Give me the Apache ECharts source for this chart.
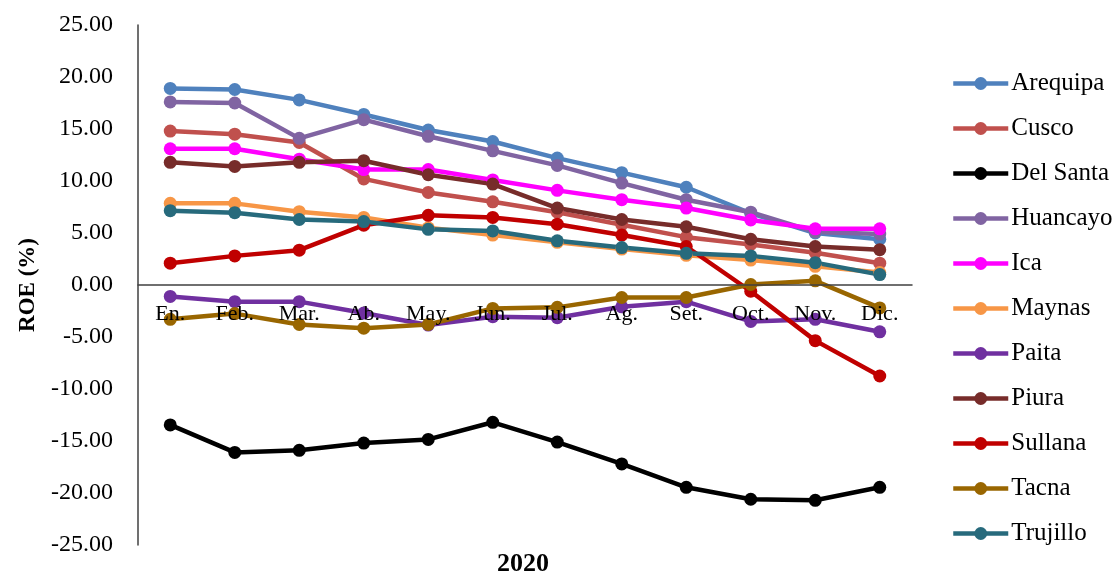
<!DOCTYPE html>
<html>
<head>
<meta charset="utf-8">
<script src="https://cdn.jsdelivr.net/npm/echarts@6/dist/echarts.min.js"></script>
<style>
  html, body { margin: 0; padding: 0; background: #fff; }
  #chart { width: 1118px; height: 575px; }
</style>
</head>
<body>
<div id="chart"></div>
<script>
// Monthly ROE (%) by municipal savings bank, 2020
const months = ['En.', 'Feb.', 'Mar.', 'Ab.', 'May.', 'Jun.', 'Jul.', 'Ag.', 'Set.', 'Oct.', 'Nov.', 'Dic.'];

const arequipa  = [18.9, 18.8, 17.8, 16.4, 14.9, 13.8, 12.2, 10.8, 9.4, 6.9, 5.0, 4.4];
const cusco     = [14.8, 14.5, 13.7, 10.2, 8.9, 8.0, 7.0, 5.8, 4.6, 3.9, 3.1, 2.1];
const delSanta  = [-13.45, -16.1, -15.9, -15.2, -14.85, -13.2, -15.1, -17.2, -19.45, -20.6, -20.7, -19.45];
const huancayo  = [17.6, 17.5, 14.1, 15.9, 14.3, 12.9, 11.5, 9.8, 8.2, 7.0, 5.1, 4.9];
const ica       = [13.1, 13.1, 12.1, 11.1, 11.1, 10.1, 9.1, 8.2, 7.4, 6.25, 5.4, 5.4];
const maynas    = [7.85, 7.85, 7.05, 6.5, 5.5, 4.8, 4.1, 3.45, 2.85, 2.4, 1.8, 1.2];
const paita     = [-1.1, -1.6, -1.6, -2.7, -3.85, -3.05, -3.15, -2.1, -1.6, -3.5, -3.3, -4.5];
const piura     = [11.8, 11.4, 11.8, 11.95, 10.6, 9.7, 7.4, 6.3, 5.6, 4.4, 3.7, 3.4];
const sullana   = [2.1, 2.8, 3.35, 5.75, 6.7, 6.5, 5.85, 4.8, 3.7, -0.6, -5.35, -8.75];
const tacna     = [-3.3, -2.75, -3.8, -4.15, -3.8, -2.25, -2.15, -1.2, -1.2, 0.05, 0.4, -2.2];
const trujillo  = [7.15, 6.95, 6.3, 6.1, 5.35, 5.2, 4.25, 3.6, 3.05, 2.8, 2.15, 1.0];

const seriesDefs = [
  ['Arequipa', arequipa, '#4F81BD'],
  ['Cusco', cusco, '#C0504D'],
  ['Del Santa', delSanta, '#000000'],
  ['Huancayo', huancayo, '#8064A2'],
  ['Ica', ica, '#FF00FF'],
  ['Maynas', maynas, '#F79646'],
  ['Paita', paita, '#7030A0'],
  ['Piura', piura, '#772C2A'],
  ['Sullana', sullana, '#C00000'],
  ['Tacna', tacna, '#996600'],
  ['Trujillo', trujillo, '#276A7C']
];

const FONT = 'Liberation Serif';
const Y_MIN = -25, Y_MAX = 25;
const GRID_TOP = 25, GRID_BOTTOM = 30, CHART_H = 575;

// Pixel distance from the bottom of the plot up to the zero line,
// so the month labels sit right under the zero axis.
const plotH = CHART_H - GRID_TOP - GRID_BOTTOM;
const zeroOffset = plotH * (0 - Y_MIN) / (Y_MAX - Y_MIN);

const chart = echarts.init(document.getElementById('chart'), null, { renderer: 'canvas' });

chart.setOption({
  animation: false,
  backgroundColor: '#ffffff',
  textStyle: { fontFamily: FONT, color: '#000' },
  grid: { left: 138, right: 206, top: GRID_TOP, bottom: GRID_BOTTOM, containLabel: false },
  title: {
    text: '2020',
    left: 523,
    textAlign: 'center',
    top: 551,
    padding: 0,
    textStyle: { fontFamily: FONT, fontSize: 26, fontWeight: 'bold', color: '#000' }
  },
  legend: {
    orient: 'vertical',
    left: 946,
    top: 66,
    itemWidth: 55,
    itemHeight: 16,
    itemGap: 20,
    lineStyle: { width: 4.5 },
    textStyle: { fontFamily: FONT, fontSize: 25, color: '#000', padding: [0, 0, 0, -2] },
    data: seriesDefs.map(d => d[0])
  },
  xAxis: {
    type: 'category',
    data: months,
    boundaryGap: true,
    position: 'bottom',
    offset: -zeroOffset,
    z: 5,
    axisLine: { onZero: false, lineStyle: { color: '#404040', width: 1.5 } },
    axisTick: { show: false },
    axisLabel: { fontFamily: FONT, fontSize: 22, color: '#000', margin: 18, interval: 0 },
    splitLine: { show: false }
  },
  yAxis: {
    type: 'value',
    min: Y_MIN,
    max: Y_MAX,
    interval: 5,
    name: 'ROE (%)',
    nameLocation: 'middle',
    nameGap: 98,
    nameTextStyle: { fontFamily: FONT, fontSize: 23, fontWeight: 'bold', color: '#000' },
    axisLine: { show: true, lineStyle: { color: '#404040', width: 1.5 } },
    axisTick: { show: false },
    axisLabel: {
      fontFamily: FONT, fontSize: 24, color: '#000', margin: 25,
      formatter: v => v.toFixed(2)
    },
    splitLine: { show: false }
  },
  series: seriesDefs.map(([name, values, color]) => ({
    name,
    type: 'line',
    data: values,
    symbol: 'circle',
    symbolSize: 13,
    showSymbol: true,
    itemStyle: { color },
    lineStyle: { color, width: 4.5 },
    emphasis: { disabled: true }
  }))
});
</script>
</body>
</html>
